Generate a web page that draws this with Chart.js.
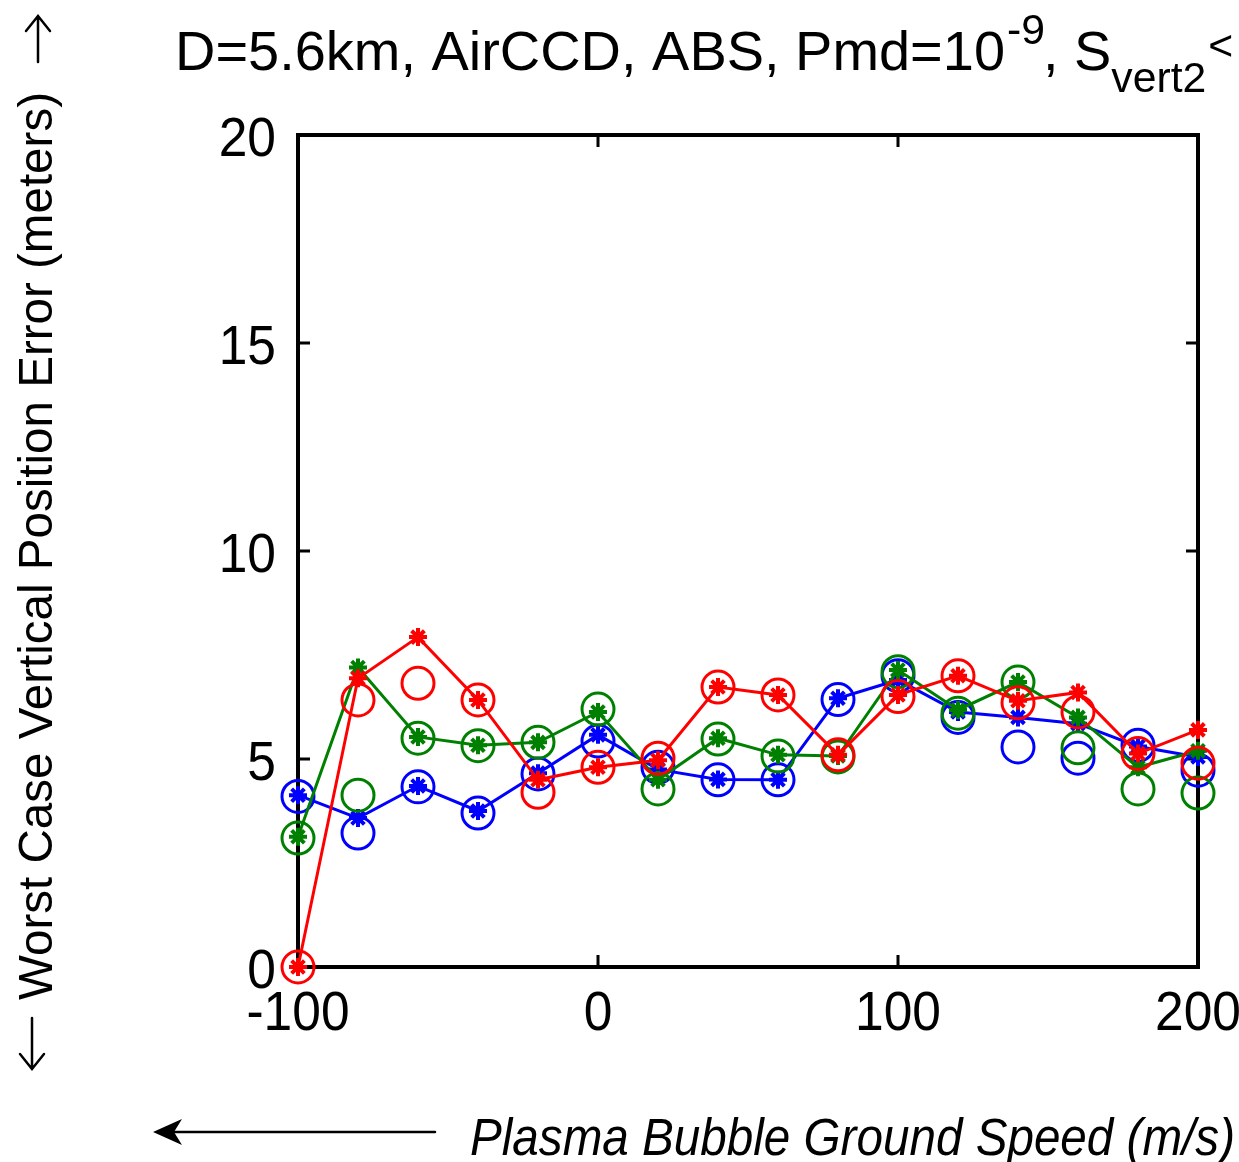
<!DOCTYPE html>
<html>
<head>
<meta charset="utf-8">
<script src="https://cdn.jsdelivr.net/npm/chart.js@4.4.1/dist/chart.umd.min.js"></script>
<style>
html, body { margin: 0; padding: 0; background: #fff; }
#wrap { width: 1239px; height: 1162px; }
</style>
</head>
<body>
<div id="wrap"><canvas id="c" width="1239" height="1162"></canvas></div>
<script>
// ground speed of the plasma bubble (m/s)
const speeds = [-100, -80, -60, -40, -20, 0, 20, 40, 60, 80, 100, 120, 140, 160, 180, 200];

// worst case vertical error (m); "Line" = joined star markers, "Circles" = open circles
const blueLine     = [4.13, 3.58, 4.35, 3.75, 4.66, 5.58, 4.75, 4.51, 4.50, 6.46, 6.90, 6.13, 6.00, 5.85, 5.30, 5.05];
const blueCircles  = [4.10, 3.22, 4.33, 3.70, 4.64, 5.43, 4.80, 4.50, 4.50, 6.43, 7.00, 6.00, 5.29, 5.02, 5.33, 4.73];
const greenLine    = [3.13, 7.20, 5.53, 5.33, 5.40, 6.13, 4.50, 5.50, 5.10, 5.07, 7.14, 6.18, 6.85, 6.00, 4.80, 5.20];
const greenCircles = [3.10, 4.13, 5.50, 5.32, 5.40, 6.20, 4.28, 5.48, 5.07, 5.05, 7.10, 6.10, 6.85, 5.27, 4.28, 4.18];
const redLine      = [0.00, 6.94, 7.93, 6.42, 4.50, 4.80, 4.97, 6.73, 6.54, 5.10, 6.54, 7.00, 6.40, 6.60, 5.13, 5.70];
const redCircles   = [0.00, 6.42, 6.82, 6.42, 4.20, 4.80, 5.02, 6.73, 6.54, 5.10, 6.50, 7.00, 6.35, 6.13, 5.13, 4.90];

const xTickValues = [-100, 0, 100, 200];
const yTickValues = [0, 5, 10, 15, 20];

const titleMain = "D=5.6km, AirCCD, ABS, Pmd=10";
const titleSup = "-9";
const titleMid = ", S";
const titleSub = "vert2";
const titleEnd = "<";
const yLabel = "Worst Case Vertical Position Error (meters)";
const xLabel = "Plasma Bubble Ground Speed (m/s)";

const FONT = "'Liberation Sans', Arial, sans-serif";
const SQUEEZE = 0.92;

function pts(ys) {
    return speeds.map((x, i) => ({x: x, y: ys[i]}));
}

function lineSet(data, color, order) {
    return {
        data: pts(data),
        showLine: true,
        borderColor: color,
        backgroundColor: color,
        borderWidth: 3,
        pointStyle: "star",
        pointRadius: 9,
        pointBorderWidth: 4,
        pointBorderColor: color,
        order: order,
        clip: false,
    };
}

function circleSet(data, color, order) {
    return {
        data: pts(data),
        showLine: false,
        borderColor: color,
        backgroundColor: "rgba(0,0,0,0)",
        pointStyle: "circle",
        pointRadius: 16,
        pointBorderWidth: 3,
        order: order,
        clip: false,
    };
}

// draw text squeezed/stretched horizontally by factor k
function drawScaled(ctx, text, x, y, k) {
    ctx.save();
    ctx.translate(x, y);
    ctx.scale(k, 1);
    ctx.fillText(text, 0, 0);
    ctx.restore();
}

function fitText(ctx, text, x, y, width) {
    drawScaled(ctx, text, x, y, width / ctx.measureText(text).width);
}

const framePlugin = {
    id: "frame",
    beforeDatasetsDraw(chart) {
        const ctx = chart.ctx, a = chart.chartArea;
        const xs = chart.scales.x, ys = chart.scales.y;
        ctx.save();
        ctx.strokeStyle = "#000";
        ctx.lineWidth = 4;
        ctx.strokeRect(a.left, a.top, a.right - a.left, a.bottom - a.top);
        ctx.lineWidth = 3;
        ctx.beginPath();
        xTickValues.forEach(v => {
            const px = xs.getPixelForValue(v);
            ctx.moveTo(px, a.bottom); ctx.lineTo(px, a.bottom - 12);
            ctx.moveTo(px, a.top); ctx.lineTo(px, a.top + 12);
        });
        yTickValues.forEach(v => {
            const py = ys.getPixelForValue(v);
            ctx.moveTo(a.left, py); ctx.lineTo(a.left + 12, py);
            ctx.moveTo(a.right, py); ctx.lineTo(a.right - 12, py);
        });
        ctx.stroke();

        // tick labels, narrow like the original
        ctx.fillStyle = "#000";
        ctx.font = "56px " + FONT;
        ctx.textBaseline = "alphabetic";
        xTickValues.forEach(v => {
            const px = xs.getPixelForValue(v);
            const w = ctx.measureText(String(v)).width * SQUEEZE;
            drawScaled(ctx, String(v), px - w / 2, a.bottom + 63, SQUEEZE);
        });
        yTickValues.forEach(v => {
            const py = ys.getPixelForValue(v);
            const w = ctx.measureText(String(v)).width * SQUEEZE;
            drawScaled(ctx, String(v), a.left - 22 - w, py + 21, SQUEEZE);
        });
        ctx.restore();
    },
    afterDraw(chart) {
        const ctx = chart.ctx;
        ctx.save();
        ctx.fillStyle = "#000";
        ctx.strokeStyle = "#000";
        ctx.textBaseline = "alphabetic";
        ctx.textAlign = "left";

        // title with superscript and subscript
        ctx.font = "55px " + FONT;
        const sx = (1005 - 175) / ctx.measureText(titleMain).width;
        let x = 175;
        drawScaled(ctx, titleMain, x, 70, sx);
        x = 1005;
        ctx.font = "42px " + FONT;
        drawScaled(ctx, titleSup, x + 2, 44, sx);
        x += ctx.measureText(titleSup).width * sx;
        ctx.font = "55px " + FONT;
        drawScaled(ctx, titleMid, x, 70, sx);
        x += ctx.measureText(titleMid).width * sx;
        ctx.font = "42px " + FONT;
        drawScaled(ctx, titleSub, x, 92, sx);
        x += ctx.measureText(titleSub).width * sx + 2;
        drawScaled(ctx, titleEnd, x, 60, sx);

        // y label, rotated
        ctx.font = "48px " + FONT;
        ctx.save();
        ctx.translate(52, 1000);
        ctx.rotate(-Math.PI / 2);
        fitText(ctx, yLabel, 0, 0, 908);
        ctx.restore();

        // x label, italic
        ctx.font = "italic 51px " + FONT;
        fitText(ctx, xLabel, 470, 1155, 765);

        ctx.lineWidth = 2.5;
        ctx.lineCap = "round";
        ctx.beginPath();
        // arrow under the x label pointing left
        ctx.moveTo(435, 1132); ctx.lineTo(158, 1132);
        // arrows beside the y label
        ctx.moveTo(32, 1018); ctx.lineTo(32, 1068);
        ctx.moveTo(20, 1054); ctx.lineTo(32, 1069); ctx.lineTo(44, 1054);
        ctx.moveTo(38, 62); ctx.lineTo(38, 17);
        ctx.moveTo(26, 31); ctx.lineTo(38, 16); ctx.lineTo(50, 31);
        ctx.stroke();
        ctx.beginPath();
        ctx.moveTo(153, 1132); ctx.lineTo(182, 1119); ctx.lineTo(174, 1132); ctx.lineTo(182, 1145);
        ctx.closePath();
        ctx.fill();
        ctx.restore();
    }
};

new Chart(document.getElementById("c"), {
    type: "scatter",
    data: {
        datasets: [
            lineSet(redLine, "#ff0000", 1),
            circleSet(redCircles, "#ff0000", 2),
            lineSet(greenLine, "#008000", 3),
            circleSet(greenCircles, "#008000", 4),
            lineSet(blueLine, "#0000ff", 5),
            circleSet(blueCircles, "#0000ff", 6),
        ]
    },
    options: {
        responsive: false,
        animation: false,
        devicePixelRatio: 1,
        layout: {padding: {left: 0, right: 41, top: 135, bottom: 0}},
        plugins: {
            legend: {display: false},
            tooltip: {enabled: false},
        },
        scales: {
            x: {
                type: "linear",
                min: -100,
                max: 200,
                afterBuildTicks: (s) => { s.ticks = xTickValues.map(v => ({value: v})); },
                afterFit: (s) => { s.height = 195; },
                grid: {display: false},
                border: {display: false},
                ticks: {display: false},
            },
            y: {
                type: "linear",
                min: 0,
                max: 20,
                afterBuildTicks: (s) => { s.ticks = yTickValues.map(v => ({value: v})); },
                afterFit: (s) => { s.width = 298; },
                grid: {display: false},
                border: {display: false},
                ticks: {display: false},
            }
        }
    },
    plugins: [framePlugin]
});
</script>
</body>
</html>
